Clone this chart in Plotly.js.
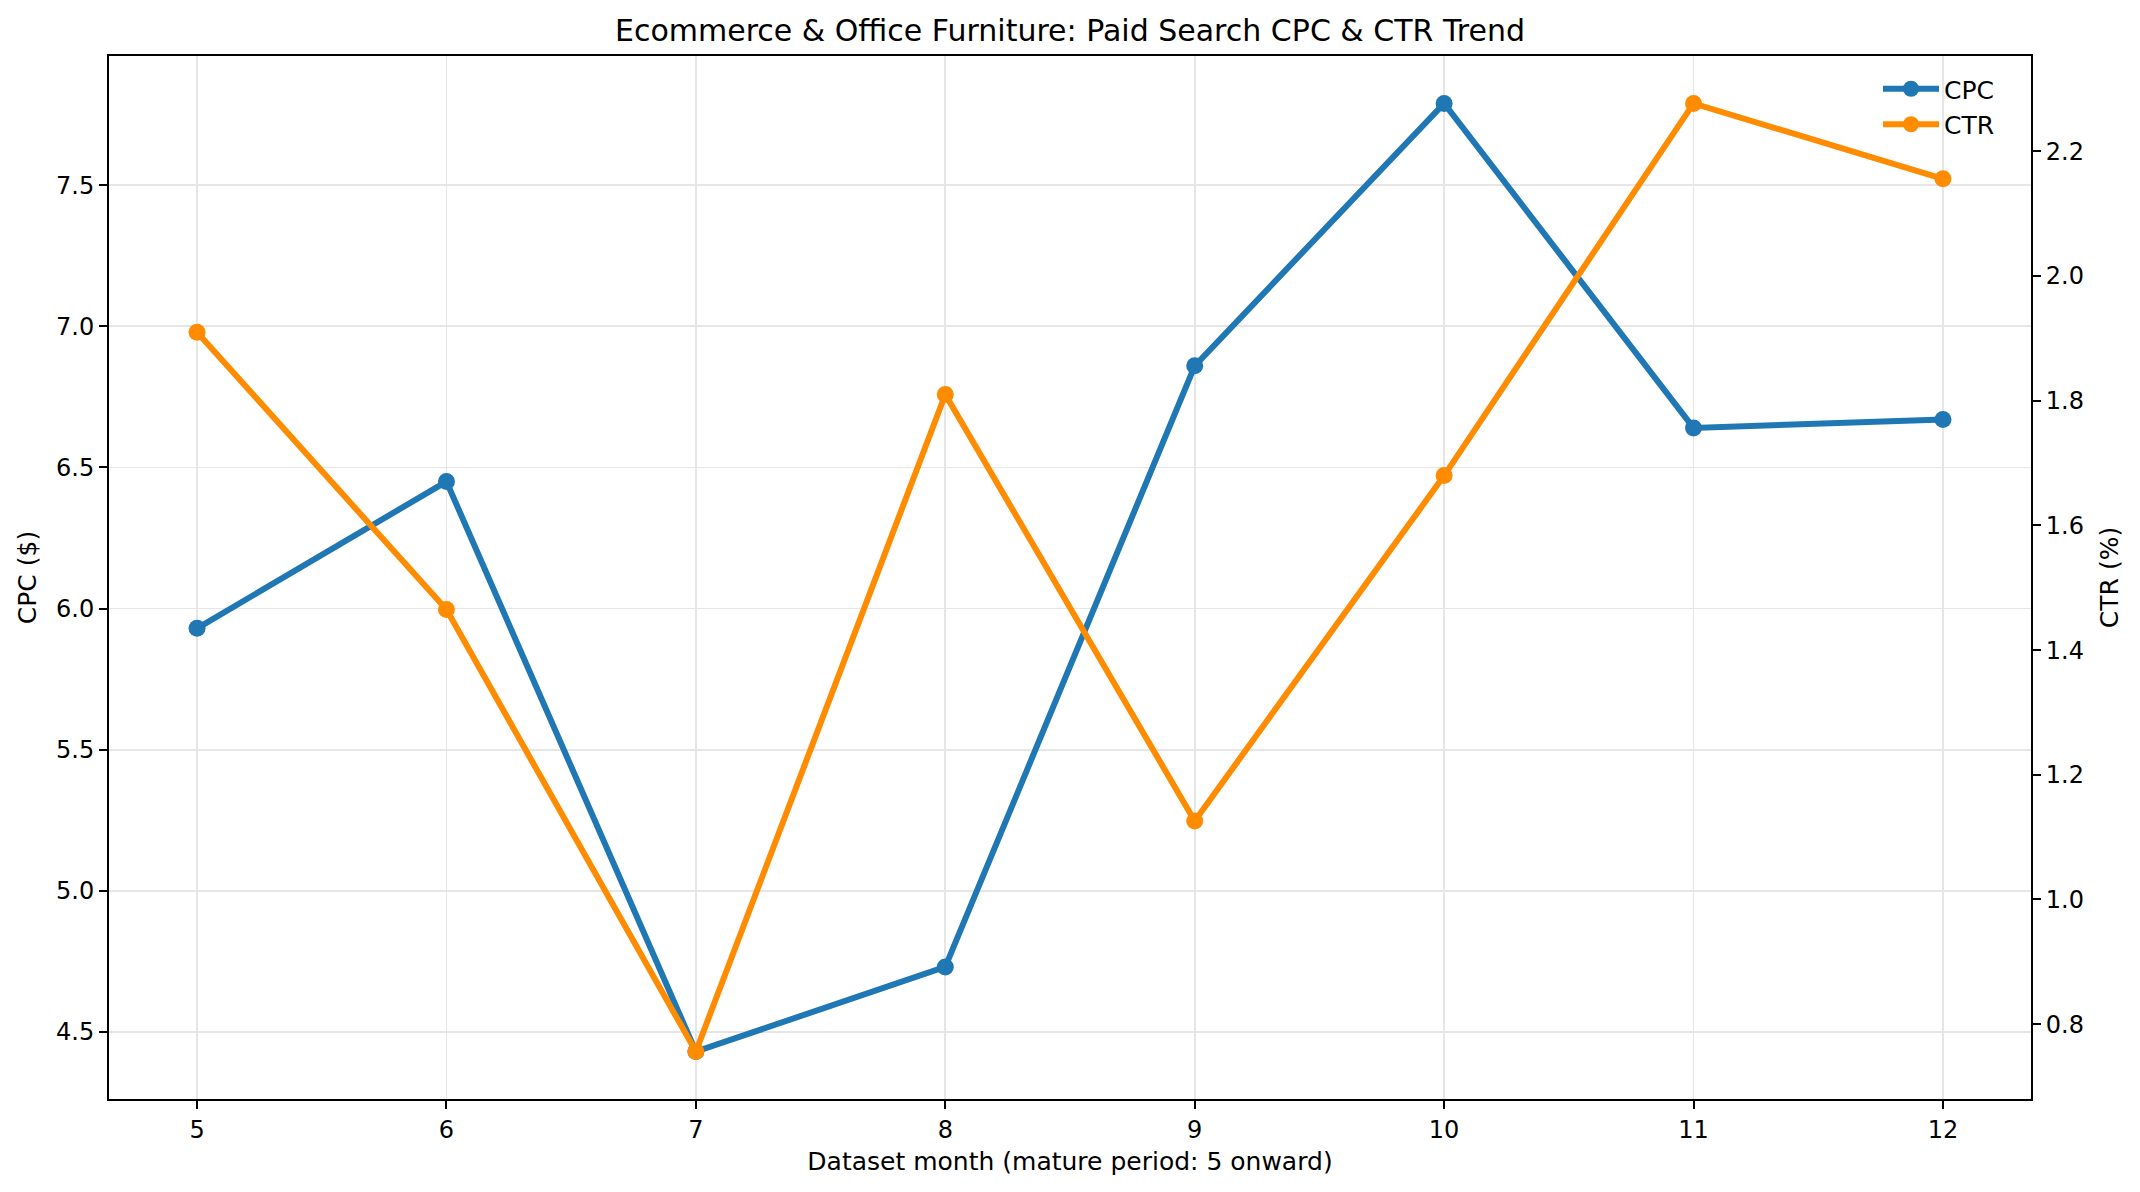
<!DOCTYPE html>
<html>
<head>
<meta charset="utf-8">
<script src="https://cdn.plot.ly/plotly-3.0.1.min.js"></script>
<style>
  html, body { margin: 0; padding: 0; background: #fff; }
  #chart { width: 2140px; height: 1192px; }
</style>
</head>
<body>
<div id="chart"></div>
<script>
// months of the dataset (mature period)
const months = [5, 6, 7, 8, 9, 10, 11, 12];
// cost per click, $
const cpcValues = [5.93, 6.45, 4.43, 4.73, 6.86, 7.79, 6.64, 6.67];
// click through rate, %
const ctrValues = [1.91, 1.465, 0.756, 1.81, 1.126, 1.68, 2.277, 2.156];

const FONT = 'DejaVu Sans, Verdana, sans-serif';
const PLOT_L = 109; // plot area edges in px
const PLOT_R = 2031;
const PLOT_T = 56;
const PLOT_B = 1099;

// pad a range by 5% on each side, same as matplotlib autoscale
function paddedRange(values, pad = 0.05) {
  const min = Math.min(...values);
  const max = Math.max(...values);
  const d = (max - min) * pad;
  return [min - d, max + d];
}

function makeTrace(y, name, color, axis) {
  return {
    x: months,
    y: y,
    name: name,
    yaxis: axis,
    type: 'scatter',
    mode: 'lines+markers',
    line: { color: color, width: 6 },
    marker: { color: color, size: 17 },
  };
}

function renderChart() {
  const data = [
    makeTrace(cpcValues, 'CPC', '#1f77b4', 'y'),
    makeTrace(ctrValues, 'CTR', '#ff8c00', 'y2'),
  ];

  const axisCommon = {
    showline: true,
    linecolor: '#000',
    linewidth: 2,
    ticks: 'outside',
    ticklen: 8,
    tickwidth: 2,
    tickcolor: '#000',
    zeroline: false,
    tickfont: { family: FONT, size: 24, color: '#000' },
  };

  const layout = {
    width: 2140,
    height: 1192,
    paper_bgcolor: '#fff',
    plot_bgcolor: '#fff',
    margin: { l: PLOT_L, r: 2140 - PLOT_R, t: PLOT_T, b: 1192 - PLOT_B, pad: 0 },
    title: {
      text: 'Ecommerce & Office Furniture: Paid Search CPC & CTR Trend',
      font: { family: FONT, size: 30, color: '#000' },
      x: 0.5,
      xanchor: 'center',
      xref: 'paper',
      y: 1 - 30 / 1192,
      yanchor: 'middle',
      yref: 'container',
    },
    xaxis: Object.assign({}, axisCommon, {
      range: [4.647, 12.353],
      tickmode: 'array',
      tickvals: months,
      ticktext: months.map(String),
      mirror: true,
      showgrid: true,
      gridcolor: '#e6e6e6',
      gridwidth: 1.8,
      title: {
        text: 'Dataset month (mature period: 5 onward)',
        font: { family: FONT, size: 25, color: '#000' },
        standoff: 10,
      },
    }),
    yaxis: Object.assign({}, axisCommon, {
      range: paddedRange(cpcValues),
      dtick: 0.5,
      tick0: 0,
      tickformat: '.1f',
      showgrid: true,
      gridcolor: '#e6e6e6',
      gridwidth: 1.8,
      title: {
        text: 'CPC ($)',
        font: { family: FONT, size: 25, color: '#000' },
        standoff: 12,
      },
    }),
    yaxis2: Object.assign({}, axisCommon, {
      overlaying: 'y',
      side: 'right',
      range: paddedRange(ctrValues),
      dtick: 0.2,
      tick0: 0,
      tickformat: '.1f',
      showgrid: false,
      title: {
        text: 'CTR (%)',
        font: { family: FONT, size: 25, color: '#000' },
        standoff: 18,
      },
    }),
    showlegend: true,
    legend: {
      x: (1878 - PLOT_L) / (PLOT_R - PLOT_L),
      xanchor: 'left',
      y: 1 - 10 / (PLOT_B - PLOT_T),
      yanchor: 'top',
      bgcolor: 'rgba(0,0,0,0)',
      borderwidth: 0,
      itemwidth: 56,
      font: { family: FONT, size: 25, color: '#000' },
    },
  };

  Plotly.newPlot('chart', data, layout, { staticPlot: true });
}

renderChart();
</script>
</body>
</html>
